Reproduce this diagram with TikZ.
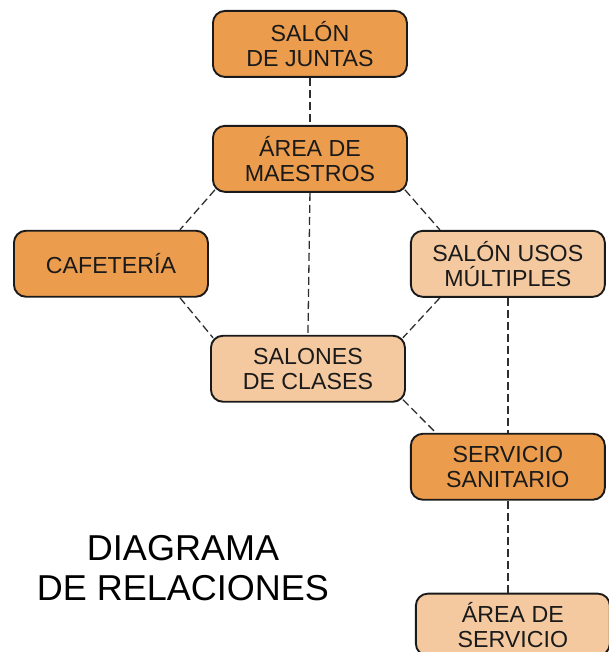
\documentclass[tikz,border=0pt]{standalone}
\usepackage{fontspec}
\setmainfont{Liberation Sans}
\usetikzlibrary{calc}
\definecolor{ink}{HTML}{1A1A1A}
\definecolor{inksoft}{HTML}{2E2E2E}
\definecolor{strongfill}{HTML}{EC9C4D}
\definecolor{lightfill}{HTML}{F4C9A0}

\begin{document}
\begin{tikzpicture}[
  x=1pt, y=1pt,
  font=\fontsize{23.2}{25}\selectfont,
  box/.style={draw=ink, line width=1.9pt, rounded corners=12pt, inner sep=2pt, align=center, text=ink, minimum width=194pt, minimum height=66pt, anchor=north west},
  strong/.style={box, fill=strongfill},
  soft/.style={box, fill=lightfill},
  link/.style={draw=inksoft, line width=1.3pt, dash pattern=on 8pt off 4pt},
  heading/.style={font=\fontsize{36}{40}\selectfont, align=center, text=black}
]
\useasboundingbox (0,0) rectangle (609,652);

% Central column
\node[strong] (juntas) at (212,642) {SALÓN\\DE JUNTAS};
\node[strong] (maestros) at ($(juntas.south west)+(0,-47)$) {ÁREA DE\\MAESTROS};
\node[soft] (salones) at ($(maestros.south west)+(-2,-142)$) {SALONES\\DE CLASES};
\draw[link] (juntas.south) -- (maestros.north);
\draw[link] (maestros.south) -- (salones.north);

% Left branch
\node[strong] (cafeteria) at ($(maestros.south west)+(-199,-37)$) {CAFETERÍA};
\draw[link] ($(maestros.south west)+(3,3)$) -- ($(cafeteria.north east)+(-29,0)$);
\draw[link] ($(cafeteria.south east)+(-29,0)$) -- ($(salones.north west)+(3,-3)$);

% Right branch
\node[soft] (usos) at ($(maestros.north east)+(2,-105)$) {SALÓN USOS\\MÚLTIPLES};
\node[strong] (sanitario) at ($(usos.south west)+(0,-135)$) {SERVICIO\\SANITARIO};
\node[soft, minimum height=62pt] (servicio) at ($(sanitario.south west)+(5,-92)$) {ÁREA DE\\SERVICIO};
\draw[link] ($(maestros.south east)+(-3,3)$) -- ($(usos.north west)+(30,0)$);
\draw[link] ($(usos.south west)+(30,0)$) -- ($(salones.north east)+(-3,-3)$);
\draw[link] ($(salones.south east)+(-3,3)$) -- ($(sanitario.north west)+(26,0)$);
\draw[link] (usos.south) -- (sanitario.north);
\draw[link] (sanitario.south) -- (sanitario.south|-servicio.north);

% Title
\node[heading] (titulo) at (183,84) {DIAGRAMA\\DE RELACIONES};

\end{tikzpicture}
\end{document}
